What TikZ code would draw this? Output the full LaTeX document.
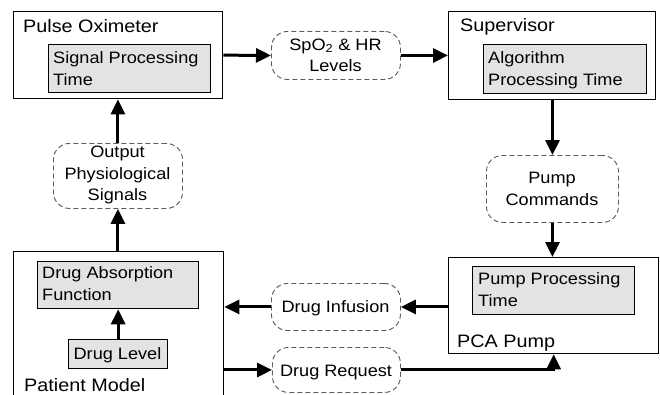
\documentclass[tikz,border=0pt]{standalone}
\usepackage{fontspec}
\setmainfont[FakeStretch=1.1]{Liberation Sans}
\usetikzlibrary{arrows.meta}

\tikzset{
  outerbox/.style={draw=black, line width=1.3pt, fill=white, inner sep=0pt, anchor=north west},
  innerbox/.style={draw=black, line width=1.3pt, fill=black!11, inner sep=0pt, anchor=north west},
  msgbox/.style={draw=black!65, line width=0.9pt, dash pattern=on 5pt off 3pt,
                 rounded corners=16pt, inner sep=0pt, anchor=north west},
  flow/.style={line width=3pt, -{Triangle[length=15pt,width=14pt]}},
  ttl/.style={font=\fontsize{18}{22}\selectfont, anchor=base west, inner sep=0pt},
  txt/.style={font=\fontsize{16.5}{22}\selectfont, anchor=base west, inner sep=0pt},
  ctxt/.style={font=\fontsize{16.5}{22}\selectfont, anchor=base, inner sep=0pt},
}

\begin{document}
\begin{tikzpicture}[x=1pt, y=-1pt]
  \clip (0,0) rectangle (660,394);
  \fill[white] (0,0) rectangle (660,394);

  % Pulse oximeter
  \node[outerbox, minimum width=209pt, minimum height=87pt] (po) at (13,11) {};
  \node[innerbox, minimum width=162pt, minimum height=48pt] (spt) at (48,44) {};
  \node[ttl] (poT) at (23,32) {Pulse Oximeter};
  \node[txt] (sptA) at (53,63) {Signal Processing};
  \node[txt] (sptB) at (53,85) {Time};

  % Supervisor
  \node[outerbox, minimum width=207pt, minimum height=88pt] (sup) at (448,11) {};
  \node[innerbox, minimum width=163pt, minimum height=49pt] (apt) at (483,44) {};
  \node[ttl] (supT) at (460,31) {Supervisor};
  \node[txt] (aptA) at (488,63) {Algorithm};
  \node[txt] (aptB) at (488,85) {Processing Time};

  % PCA pump
  \node[outerbox, minimum width=210pt, minimum height=96pt] (pca) at (448,257) {};
  \node[innerbox, minimum width=162pt, minimum height=48pt] (ppt) at (472,266) {};
  \node[txt] (pptA) at (478,284) {Pump Processing};
  \node[txt] (pptB) at (478,306) {Time};
  \node[ttl] (pcaT) at (457,347) {PCA Pump};

  % Patient model (its lower edge runs past the page)
  \node[outerbox, minimum width=210pt, minimum height=170pt] (pm) at (13,251) {};
  \node[innerbox, minimum width=161pt, minimum height=47pt] (da) at (37,261) {};
  \node[txt] (daA) at (42,278) {Drug Absorption};
  \node[txt] (daB) at (42,300) {Function};
  \node[innerbox, minimum width=99pt, minimum height=29pt] (dl) at (68,339) {};
  \node[ctxt] (dlT) at (117.5,359) {Drug Level};
  \node[ttl] (pmT) at (24,391) {Patient Model};

  % Messages
  \node[msgbox, minimum width=129pt, minimum height=48pt] (spo) at (271,31) {};
  \node[ctxt] (spoA) at (335.5,50) {SpO\textsubscript{2} \& HR};
  \node[ctxt] (spoB) at (335.5,71) {Levels};

  \node[msgbox, minimum width=132pt, minimum height=67pt] (cmd) at (486,155) {};
  \node[ctxt] (cmdA) at (552,183) {Pump};
  \node[ctxt] (cmdB) at (552,205) {Commands};

  \node[msgbox, minimum width=129pt, minimum height=65pt] (out) at (53,143) {};
  \node[ctxt] (outA) at (117.5,157) {Output};
  \node[ctxt] (outB) at (117.5,179) {Physiological};
  \node[ctxt] (outC) at (117.5,200) {Signals};

  \node[msgbox, minimum width=129pt, minimum height=47pt] (inf) at (271,283) {};
  \node[ctxt] (infT) at (335.5,312) {Drug Infusion};

  \node[msgbox, minimum width=128pt, minimum height=45pt] (req) at (272,347) {};
  \node[ctxt] (reqT) at (336,376) {Drug Request};

  % Flows
  \draw[flow] (po.east) -- (spo.west);
  \draw[flow] (spo.east) -- (spo.east -| sup.west);
  \draw[flow] (sup.south -| cmd.north) -- (cmd.north);
  \draw[flow] (cmd.south) -- (cmd.south |- pca.north);
  \draw[flow] (pca.west |- inf.east) -- (inf.east);
  \draw[flow] (inf.west) -- (inf.west -| pm.east);
  \draw[flow] (req.west -| pm.east) -- (req.west);
  \draw[flow] (req.east) -| (pca.south);
  \draw[flow] (dl.north) -- (da.south);
  \draw[flow] (out.south |- pm.north) -- (out.south);
  \draw[flow] (out.north) -- (out.north |- po.south);
\end{tikzpicture}
\end{document}
